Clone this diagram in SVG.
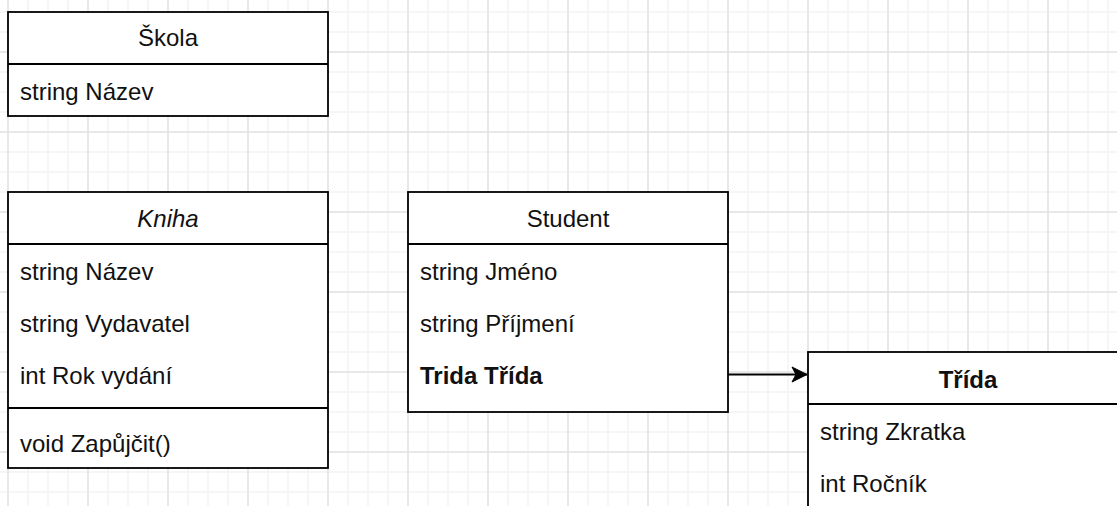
<svg xmlns="http://www.w3.org/2000/svg" width="1117" height="506" viewBox="0 0 1117 506">
  <style>
    .box { fill: #ffffff; stroke: #000000; stroke-width: 1.8; }
    .div { fill: none; stroke: #000000; stroke-width: 1.8; }
    .t { font-family: "Liberation Sans", Arial, Helvetica, sans-serif; font-size: 24px; fill: #111111; }
    .h { text-anchor: middle; }
    .b { font-weight: bold; }
    .i { font-style: italic; }
    .edge { fill: none; stroke: #000000; stroke-width: 1.8; }
  </style>
  <defs>
    <pattern id="minor" patternUnits="userSpaceOnUse" x="-2" y="2" width="20" height="20">
      <path d="M10 0 V20 M0 10 H20" stroke="#f4f4f4" stroke-width="1.5" fill="none"/>
    </pattern>
    <pattern id="major" patternUnits="userSpaceOnUse" x="-32" y="12" width="80" height="80">
      <path d="M40 0 V80 M0 40 H80" stroke="#e4e4e4" stroke-width="1.5" fill="none"/>
    </pattern>
    <marker id="arrow" markerUnits="userSpaceOnUse" markerWidth="17" markerHeight="18" refX="16" refY="8.5" orient="auto" viewBox="0 0 17 18">
      <path d="M1 1 L16 8.5 L1 16 L5 8.5 Z" fill="#000000" stroke="#000000" stroke-width="1"/>
    </marker>
  </defs>

  <rect width="1117" height="506" fill="#ffffff"/>
  <rect width="1117" height="506" fill="url(#minor)"/>
  <rect width="1117" height="506" fill="url(#major)"/>

  <g id="node-skola">
    <rect class="box" x="8" y="12" width="320" height="104"/>
    <line class="div" x1="8" y1="64" x2="328" y2="64"/>
    <text class="t h" x="168" y="46">Škola</text>
    <text class="t" x="20" y="100">string Název</text>
  </g>

  <g id="node-kniha">
    <rect class="box" x="8" y="192" width="320" height="276"/>
    <line class="div" x1="8" y1="244" x2="328" y2="244"/>
    <line class="div" x1="8" y1="408" x2="328" y2="408"/>
    <text class="t h i" x="168" y="227">Kniha</text>
    <text class="t" x="20" y="280">string Název</text>
    <text class="t" x="20" y="332">string Vydavatel</text>
    <text class="t" x="20" y="384">int Rok vydání</text>
    <text class="t" x="20" y="452">void Zapůjčit()</text>
  </g>

  <g id="node-student">
    <rect class="box" x="408" y="192" width="320" height="220"/>
    <line class="div" x1="408" y1="244" x2="728" y2="244"/>
    <text class="t h" x="568" y="227">Student</text>
    <text class="t" x="420" y="280">string Jméno</text>
    <text class="t" x="420" y="332">string Příjmení</text>
    <text class="t b" x="420" y="384">Trida Třída</text>
  </g>

  <g id="node-trida">
    <rect class="box" x="808" y="352" width="320" height="220"/>
    <line class="div" x1="808" y1="404" x2="1128" y2="404"/>
    <text class="t h b" x="968" y="388">Třída</text>
    <text class="t" x="820" y="440">string Zkratka</text>
    <text class="t" x="820" y="492">int Ročník</text>
  </g>

  <g id="connectors">
    <line class="edge" x1="728" y1="374.5" x2="807" y2="374.5" marker-end="url(#arrow)"/>
  </g>
</svg>
